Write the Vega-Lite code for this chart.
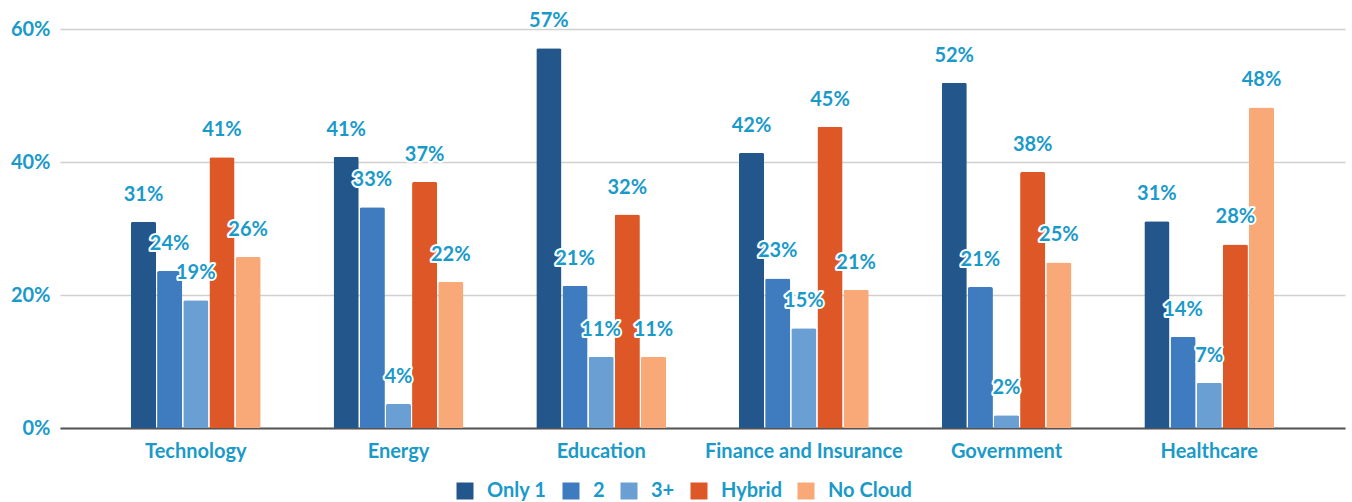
{
  "$schema": "https://vega.github.io/schema/vega-lite/v6.json",
  "width": 1285,
  "height": 399,
  "autosize": {"type": "none"},
  "padding": {"left": 60, "top": 29, "right": 7, "bottom": 74},
  "config": {"view": {"stroke": null}, "font": "Lato"},
  "data": {
    "values": [
      {"sector": "Technology", "series": "Only 1", "value": 31.0, "label": "31%"},
      {"sector": "Technology", "series": "2", "value": 23.6, "label": "24%"},
      {"sector": "Technology", "series": "3+", "value": 19.2, "label": "19%"},
      {"sector": "Technology", "series": "Hybrid", "value": 40.7, "label": "41%"},
      {"sector": "Technology", "series": "No Cloud", "value": 25.7, "label": "26%"},
      {"sector": "Energy", "series": "Only 1", "value": 40.8, "label": "41%"},
      {"sector": "Energy", "series": "2", "value": 33.2, "label": "33%"},
      {"sector": "Energy", "series": "3+", "value": 3.6, "label": "4%"},
      {"sector": "Energy", "series": "Hybrid", "value": 37.0, "label": "37%"},
      {"sector": "Energy", "series": "No Cloud", "value": 22.0, "label": "22%"},
      {"sector": "Education", "series": "Only 1", "value": 57.1, "label": "57%"},
      {"sector": "Education", "series": "2", "value": 21.4, "label": "21%"},
      {"sector": "Education", "series": "3+", "value": 10.7, "label": "11%"},
      {"sector": "Education", "series": "Hybrid", "value": 32.1, "label": "32%"},
      {"sector": "Education", "series": "No Cloud", "value": 10.7, "label": "11%"},
      {"sector": "Finance and Insurance", "series": "Only 1", "value": 41.4, "label": "42%"},
      {"sector": "Finance and Insurance", "series": "2", "value": 22.5, "label": "23%"},
      {"sector": "Finance and Insurance", "series": "3+", "value": 15.0, "label": "15%"},
      {"sector": "Finance and Insurance", "series": "Hybrid", "value": 45.3, "label": "45%"},
      {"sector": "Finance and Insurance", "series": "No Cloud", "value": 20.8, "label": "21%"},
      {"sector": "Government", "series": "Only 1", "value": 51.9, "label": "52%"},
      {"sector": "Government", "series": "2", "value": 21.2, "label": "21%"},
      {"sector": "Government", "series": "3+", "value": 1.9, "label": "2%"},
      {"sector": "Government", "series": "Hybrid", "value": 38.5, "label": "38%"},
      {"sector": "Government", "series": "No Cloud", "value": 24.9, "label": "25%"},
      {"sector": "Healthcare", "series": "Only 1", "value": 31.1, "label": "31%"},
      {"sector": "Healthcare", "series": "2", "value": 13.7, "label": "14%"},
      {"sector": "Healthcare", "series": "3+", "value": 6.8, "label": "7%"},
      {"sector": "Healthcare", "series": "Hybrid", "value": 27.6, "label": "28%"},
      {"sector": "Healthcare", "series": "No Cloud", "value": 48.2, "label": "48%"}
    ]
  },
  "encoding": {
    "x": {
      "field": "sector",
      "type": "nominal",
      "sort": ["Technology", "Energy", "Education", "Finance and Insurance", "Government", "Healthcare"],
      "scale": {"paddingInner": 0.36, "paddingOuter": 0.35},
      "axis": {
        "title": null,
        "labelAngle": 0,
        "labelFont": "Lato",
        "labelFontSize": 20,
        "labelFontWeight": "bold",
        "labelColor": "#1a9ac9",
        "labelPadding": 13,
        "labelLimit": 400,
        "ticks": false,
        "domainColor": "#555555",
        "domainWidth": 2
      }
    },
    "xOffset": {
      "field": "series",
      "type": "nominal",
      "sort": ["Only 1", "2", "3+", "Hybrid", "No Cloud"],
      "scale": {"paddingInner": 0.04}
    },
    "y": {
      "field": "value",
      "type": "quantitative",
      "scale": {"domain": [0, 60], "nice": false},
      "axis": {
        "title": null,
        "values": [0, 20, 40, 60],
        "labelExpr": "datum.value + '%'",
        "labelFont": "Lato",
        "labelFontSize": 20,
        "labelFontWeight": "bold",
        "labelColor": "#1a9ac9",
        "labelPadding": 10,
        "ticks": false,
        "domain": false,
        "gridColor": "#d0d0d0",
        "gridWidth": 1.5
      }
    }
  },
  "layer": [
    {
      "mark": {"type": "bar", "cornerRadiusTopLeft": 2, "cornerRadiusTopRight": 2},
      "encoding": {
        "color": {
          "field": "series",
          "type": "nominal",
          "sort": ["Only 1", "2", "3+", "Hybrid", "No Cloud"],
          "scale": {
            "domain": ["Only 1", "2", "3+", "Hybrid", "No Cloud"],
            "range": ["#23568a", "#3e7cbf", "#6a9fd4", "#de5727", "#f9a878"]
          },
          "legend": {
            "title": null,
            "orient": "none",
            "legendX": 395,
            "legendY": 452,
            "direction": "horizontal",
            "padding": 0,
            "symbolType": "square",
            "symbolSize": 289,
            "symbolStrokeWidth": 0,
            "labelFont": "Lato",
            "labelFontSize": 20,
            "labelFontWeight": "bold",
            "labelColor": "#1a9ac9",
            "labelOffset": 12,
            "columnPadding": 14
          }
        }
      }
    },
    {
      "mark": {"type": "text", "dy": -27, "baseline": "middle", "align": "center", "font": "Lato", "fontSize": 20, "fontWeight": "bold", "stroke": "white", "strokeWidth": 4, "strokeJoin": "round", "fill": "white"},
      "encoding": {"text": {"field": "label"}}
    },
    {
      "mark": {"type": "text", "dy": -27, "baseline": "middle", "align": "center", "font": "Lato", "fontSize": 20, "fontWeight": "bold", "fill": "#1a9ac9"},
      "encoding": {"text": {"field": "label"}}
    }
  ]
}
